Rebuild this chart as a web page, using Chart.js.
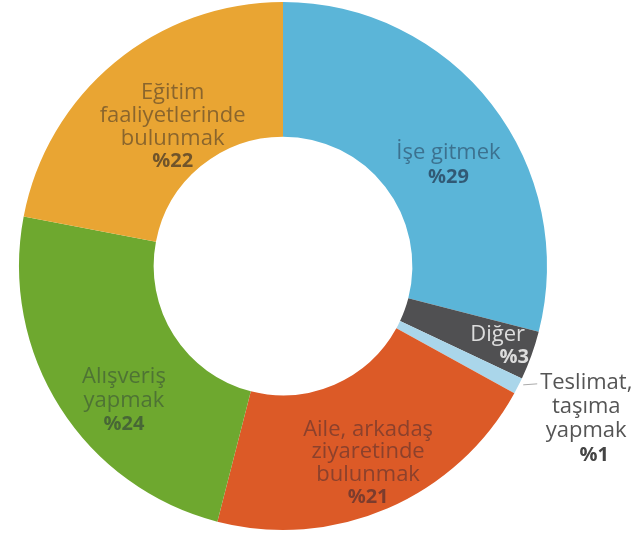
<!DOCTYPE html>
<html lang="tr">
<head>
<meta charset="utf-8">
<title>Yolculuk amaçları</title>
<script src="https://cdn.jsdelivr.net/npm/chart.js@4.4.1/dist/chart.umd.min.js"></script>
<style>
    html, body { margin: 0; padding: 0; background: #fff; }
    #wrap { width: 642px; height: 533px; }
</style>
</head>
<body>
<div id="wrap"><canvas id="tripChart" width="642" height="533"></canvas></div>
<script>
const CATEGORIES = [
    "İşe gitmek",
    "Diğer",
    "Teslimat, taşıma yapmak",
    "Aile, arkadaş ziyaretinde bulunmak",
    "Alışveriş yapmak",
    "Eğitim faaliyetlerinde bulunmak"
];
const SHARES = [29, 3, 1, 21, 24, 22];
const LABEL_LINES = [
    ["İşe gitmek"],
    ["Diğer"],
    ["Teslimat,", "taşıma", "yapmak"],
    ["Aile, arkadaş", "ziyaretinde", "bulunmak"],
    ["Alışveriş", "yapmak"],
    ["Eğitim", "faaliyetlerinde", "bulunmak"]
];

const COLORS = ["#5bb5d8", "#505052", "#aad6ea", "#dc5a27", "#6ea82f", "#e9a533"];

// where each label block sits, relative to the slice centre (or outer edge when outside)
const LABEL_STYLE = [
    { dx: 10, dy: 7,   lh: 25,   align: "center", color: "rgba(30,45,70,0.5)",  pct: "rgba(30,45,70,0.68)" },
    { dx: 57, dy: 2,   lh: 23,   align: "right",  color: "rgba(255,255,255,0.8)", pct: "rgba(255,255,255,0.8)", pctDx: 4 },
    { dx: 68, dy: -3,  lh: 24,   align: "center", color: "#555", pct: "#444", outside: true, pctDx: 8 },
    { dx: 7,  dy: -17, lh: 22.5, align: "center", color: "rgba(60,40,50,0.5)", pct: "rgba(60,40,50,0.6)" },
    { dx: 7,  dy: 5,   lh: 24,   align: "center", color: "rgba(40,50,60,0.45)", pct: "rgba(40,50,60,0.55)" },
    { dx: 15, dy: -22, lh: 23,   align: "center", color: "rgba(60,50,40,0.55)", pct: "rgba(60,50,40,0.7)" }
];

const FONT = '"Open Sans", "Noto Sans", sans-serif';

const sliceLabels = {
    id: "sliceLabels",
    afterDatasetsDraw(chart) {
        const ctx = chart.ctx;
        const meta = chart.getDatasetMeta(0);
        meta.data.forEach((arc, i) => {
            const p = arc.getProps(["x", "y", "startAngle", "endAngle", "innerRadius", "outerRadius"], true);
            const mid = (p.startAngle + p.endAngle) / 2;
            const st = LABEL_STYLE[i];
            const r = st.outside ? p.outerRadius : (p.innerRadius + p.outerRadius) / 2;
            const ax = p.x + Math.cos(mid) * r;
            const ay = p.y + Math.sin(mid) * r;
            const x = ax + st.dx;
            let y = ay + st.dy;

            ctx.save();
            if (st.outside) {
                ctx.strokeStyle = "#aaa";
                ctx.lineWidth = 1;
                ctx.beginPath();
                ctx.moveTo(ax + 5, ay - 1);
                ctx.lineTo(ax + 19, ay - 2);
                ctx.stroke();
            }
            ctx.textAlign = st.align;
            ctx.textBaseline = "middle";
            ctx.fillStyle = st.color;
            ctx.font = `400 22px ${FONT}`;
            LABEL_LINES[i].forEach(line => {
                ctx.fillText(line, x, y);
                y += st.lh;
            });
            ctx.fillStyle = st.pct;
            ctx.font = `700 20px ${FONT}`;
            ctx.fillText("%" + SHARES[i], x + (st.pctDx || 0), y);
            ctx.restore();
        });
    }
};

new Chart(document.getElementById("tripChart"), {
    type: "doughnut",
    data: {
        labels: CATEGORIES,
        datasets: [{
            data: SHARES,
            backgroundColor: COLORS,
            borderWidth: 0
        }]
    },
    options: {
        responsive: false,
        animation: false,
        cutout: "49%",
        layout: { padding: { left: 19, right: 95, top: 2, bottom: 3 } },
        plugins: {
            legend: { display: false },
            tooltip: { enabled: false }
        }
    },
    plugins: [sliceLabels]
});
</script>
</body>
</html>
